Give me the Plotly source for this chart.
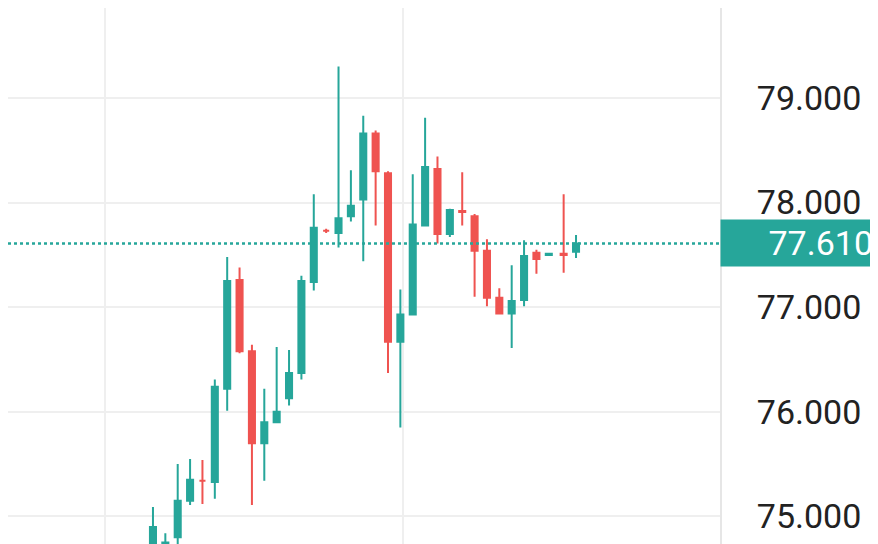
import plotly.graph_objects as go

opens = [74.60, 74.60, 74.80, 75.15, 75.34, 75.33, 76.22, 77.26, 76.58, 75.70, 75.90, 76.13,
         76.37, 77.24, 77.73, 77.71, 77.87, 78.03, 78.66, 78.28, 76.67, 76.93, 77.78, 78.32,
         77.70, 77.92, 77.87, 77.54, 77.09, 76.94, 77.07, 77.52, 77.50, 77.51, 77.53]
highs = [75.09, 74.84, 75.50, 75.55, 75.54, 76.31, 77.48, 77.38, 76.64, 76.22, 76.62, 76.59,
         77.30, 78.08, 77.75, 79.30, 78.31, 78.83, 78.69, 78.30, 77.17, 78.27, 78.81, 78.44,
         77.94, 78.29, 77.89, 77.65, 77.18, 77.40, 77.64, 77.55, 77.52, 78.08, 77.69]
lows = [74.50, 74.50, 74.70, 75.11, 75.12, 75.17, 76.01, 76.56, 75.11, 75.34, 75.90, 76.06,
        76.31, 77.16, 77.71, 77.57, 77.82, 77.44, 77.78, 76.37, 75.85, 76.93, 77.78, 77.61,
        77.67, 77.78, 77.10, 77.01, 76.93, 76.61, 77.01, 77.32, 77.49, 77.33, 77.47]
closes = [74.90, 74.75, 75.15, 75.35, 75.34, 76.24, 77.25, 76.58, 75.70, 75.90, 76.00, 76.37,
          77.25, 77.76, 77.73, 77.85, 77.97, 78.66, 78.30, 76.67, 76.93, 77.79, 78.34, 77.70,
          77.93, 77.91, 77.54, 77.09, 76.94, 77.06, 77.49, 77.46, 77.51, 77.50, 77.61]
x_pos = [0, 1, 2, 3, 4, 5, 6, 7, 8, 9, 10, 11, 12, 13, 14, 15, 16, 17, 18, 19, 20, 21, 22,
         23, 24, 25, 26, 27, 28, 29, 30, 31, 32, 33.2, 34.2]
last_price = 77.61
y_ticks = [75, 76, 77, 78, 79]
top_tick = 80

green = "#26a69a"
red = "#ef5350"

fig = go.Figure(go.Candlestick(
    x=x_pos, open=opens, high=highs, low=lows, close=closes,
    increasing=dict(line=dict(color=green, width=2), fillcolor=green),
    decreasing=dict(line=dict(color=red, width=2), fillcolor=red),
))

# last price dotted line
fig.add_hline(y=last_price, line_color=green, line_dash="dot", line_width=2.5)

fig.add_annotation(
    x=1, xref="paper", xanchor="left", y=last_price, yref="y",
    text=f"{last_price:.3f}", showarrow=False,
    font=dict(size=34, color="white", family="Roboto"),
    bgcolor=green, width=150, height=42, align="right", borderpad=2,
)

# half-visible tick label above the plot
fig.add_annotation(
    x=1, xref="paper", xanchor="left", xshift=28, y=top_tick, yref="y",
    text=f"{top_tick:.3f}", showarrow=False,
    font=dict(size=34, color="#222", family="Roboto"),
)

fig.update_layout(
    width=878, height=544,
    margin=dict(l=0, r=166, t=0, b=0),
    paper_bgcolor="white", plot_bgcolor="white",
    showlegend=False,
    xaxis=dict(
        range=[-11.72, 45.84], rangeslider=dict(visible=False),
        tickvals=[-3.88, 20.2], showticklabels=False,
        showgrid=True, gridcolor="#efefef", gridwidth=2, zeroline=False,
    ),
    yaxis=dict(
        side="right", range=[74.66, 79.86], tickvals=y_ticks, tickformat=".3f",
        tickfont=dict(size=34, color="#222", family="Roboto"),
        ticklabelstandoff=28,
        showgrid=True, gridcolor="#efefef", gridwidth=2, zeroline=False,
        showline=True, linecolor="#e6e6e6", linewidth=2,
    ),
)

fig.write_html("out.html")
